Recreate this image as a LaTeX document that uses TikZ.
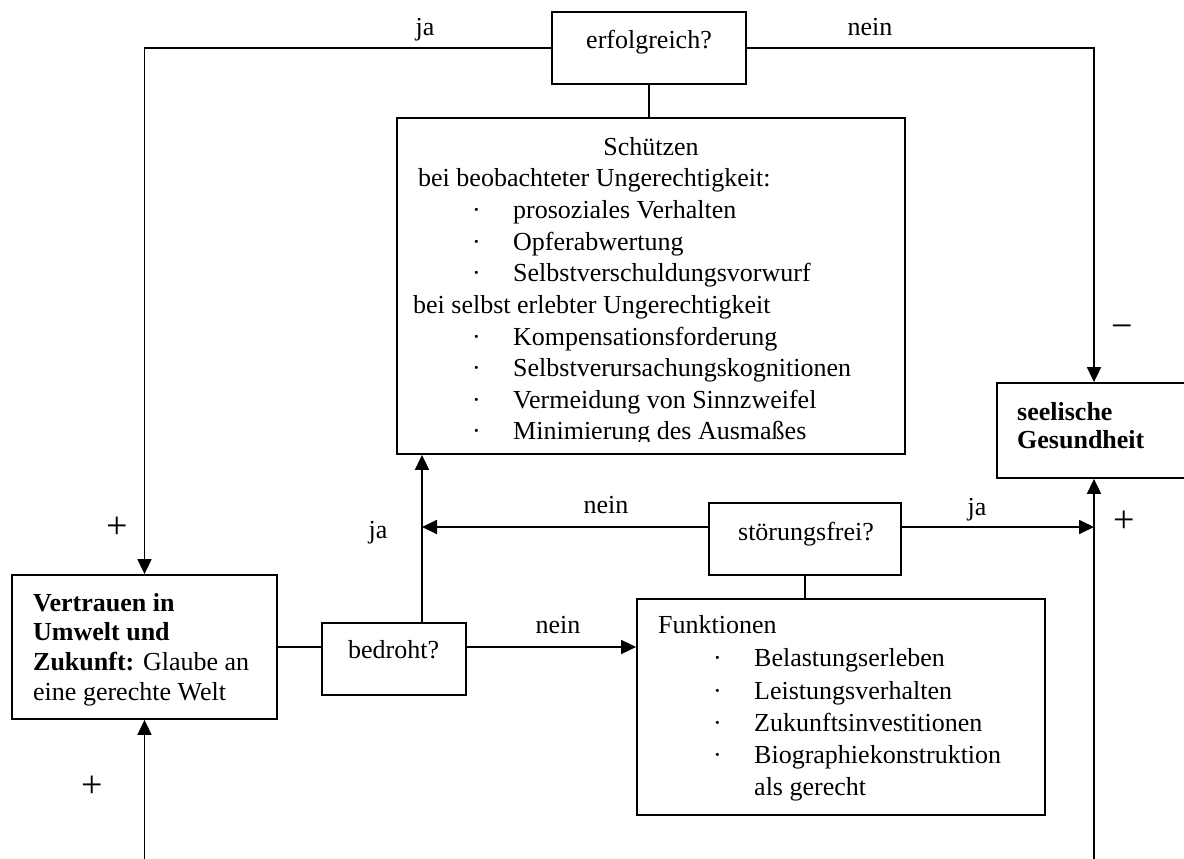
\documentclass[tikz,border=0pt]{standalone}
\usepackage{fontspec}
\setmainfont{Liberation Serif}
\usetikzlibrary{arrows.meta}
\begin{document}
\begin{tikzpicture}[x=1pt,y=-1pt,
  box/.style={draw, line width=1.8pt, inner sep=0pt},
  wire/.style={line width=1.8pt},
  arrow/.style={wire, -{Triangle[length=15pt,width=14pt]}},
  txt/.style={inner sep=0pt, yshift=-6pt, font=\fontsize{26}{31}\selectfont},
  lbl/.style={txt, anchor=mid},
  lft/.style={txt, anchor=mid west},
  sign/.style={inner sep=0pt, anchor=center, yshift=-5pt, font=\fontsize{38}{38}\selectfont},
]
\useasboundingbox (0,0) rectangle (1184,859);

% boxes
\node[box, minimum width=194pt, minimum height=72pt]  (erf)   at (649,48) {};
\node[box, minimum width=508pt, minimum height=336pt] (schutz) at (651,286) {};
\node[box, minimum width=203pt, minimum height=95pt]  (seel)  at (1098.5,430.5) {};
\node[box, minimum width=192pt, minimum height=72pt]  (stoer) at (805,539) {};
\node[box, minimum width=408pt, minimum height=216pt] (funk)  at (841,707) {};
\node[box, minimum width=144pt, minimum height=72pt]  (bedr)  at (394,659) {};
\node[box, minimum width=265pt, minimum height=144pt] (vert)  at (144.5,647) {};

% guide coordinates for the connector lines
\coordinate (rx) at (1094,0);
\coordinate (vx) at (422,0);
\coordinate (yS) at (0,527);
\coordinate (yB) at (0,647);
\coordinate (bl) at (144.5,859);
\coordinate (br) at (1094,859);

% connectors
\draw[arrow] (erf.west) -| (vert.north);
\draw[arrow] (erf.east) -| (rx |- seel.north);
\draw[wire] (erf.south) -- (erf.south |- schutz.north);
\draw[arrow] (br) -- (rx |- seel.south);
\draw[arrow] (bl) -- (vert.south);
\draw[arrow] (vx |- bedr.north) -- (vx |- schutz.south);
\draw[arrow] (stoer.west |- yS) -- (vx |- yS);
\draw[arrow] (stoer.east |- yS) -- (rx |- yS);
\draw[wire] (stoer.south) -- (stoer.south |- funk.north);
\draw[wire] (vert.east |- yB) -- (bedr.west |- yB);
\draw[arrow] (bedr.east |- yB) -- (funk.west |- yB);

% branch labels
\node[lbl] (jaTop)   at (425,27)  {ja};
\node[lbl] (neinTop) at (870,27)  {nein};
\node[lbl] (neinMid) at (606,505) {nein};
\node[lbl] (jaMid)   at (378,530) {ja};
\node[lbl] (jaRight) at (977,507) {ja};
\node[lbl] (neinLow) at (558,625) {nein};

% signs
\node[sign] (minus) at (1122,327) {−};
\node[sign] (plusR) at (1124,517) {+};
\node[sign] (plusL) at (117,523)  {+};
\node[sign] (plusB) at (92,782)   {+};

% decision texts
\node[lbl] (erfT)   at (649,40)  {erfolgreich?};
\node[lbl] (stoerT) at (806,532) {störungsfrei?};
\node[lft] (bedrT)  at (348,650) {bedroht?};

% protective reactions (the last line is cut by the box)
\begin{scope}
  \clip (397,118) rectangle (905,441);
  \node[lbl] (sT) at (651,147) {Schützen};
  \node[lft] (s1) at (418,178) {bei beobachteter Ungerechtigkeit:};
  \node[lft] (s5) at (413,305) {bei selbst erlebter Ungerechtigkeit};
  \foreach \y/\t [count=\i] in {
      210/prosoziales Verhalten,
      242/Opferabwertung,
      273/Selbstverschuldungsvorwurf,
      337/Kompensationsforderung,
      368/Selbstverursachungskognitionen,
      400/Vermeidung von Sinnzweifel,
      431/Minimierung des Ausmaßes} {
    \node[lft] (sb\i) at (472,\y) {·};
    \node[lft] (si\i) at (513,\y) {\t};
  }
\end{scope}

% functions
\node[lft] (fT) at (658,625) {Funktionen};
\foreach \y/\t [count=\i] in {
    658/Belastungserleben,
    691/Leistungsverhalten,
    723/Zukunftsinvestitionen,
    755/Biographiekonstruktion} {
  \node[lft] (fb\i) at (713,\y) {·};
  \node[lft] (fi\i) at (754,\y) {\t};
}
\node[lft] (fi5) at (754,787) {als gerecht};

% belief in a just world
\node[lft] (v1) at (33,603) {\bfseries Vertrauen in};
\node[lft] (v2) at (33,632) {\bfseries Umwelt und};
\node[lft] (v3) at (33,662) {\textbf{Zukunft:} Glaube an};
\node[lft] (v4) at (33,692) {eine gerechte Welt};

% mental health
\node[lft] (g1) at (1017,412) {\bfseries seelische};
\node[lft] (g2) at (1017,440) {\bfseries Gesundheit};
\end{tikzpicture}
\end{document}
